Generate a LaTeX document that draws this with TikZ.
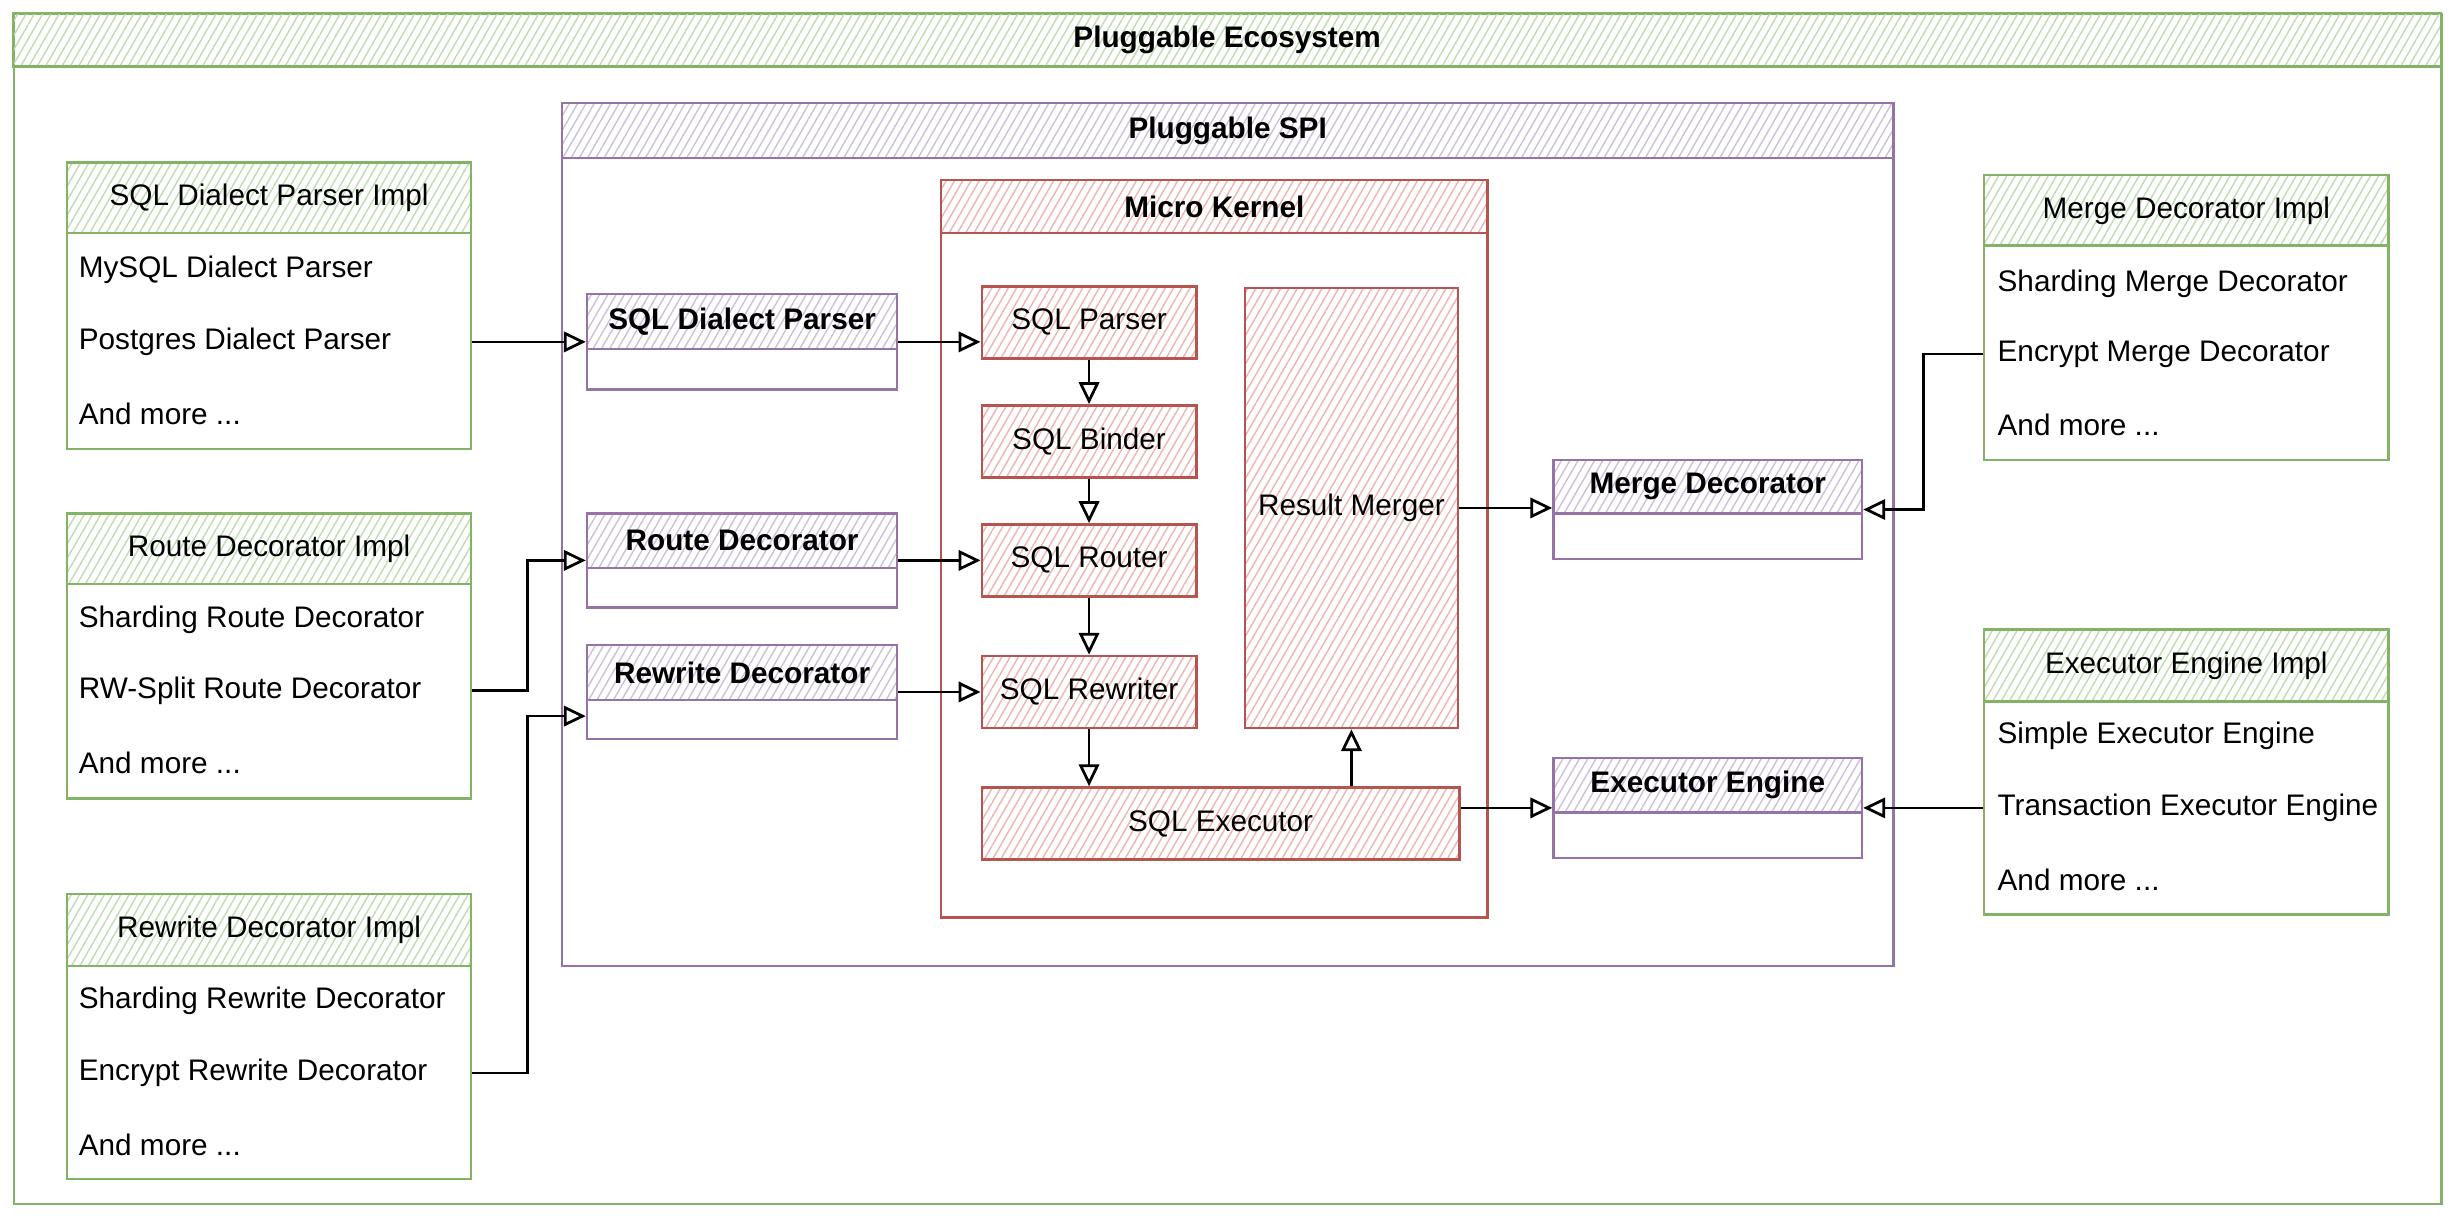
\documentclass[tikz,border=0pt]{standalone}
\usepackage{fontspec}
\setmainfont{Liberation Sans}
\usetikzlibrary{arrows.meta,patterns.meta,calc,positioning}

\definecolor{ecogreen}{HTML}{82B366}
\definecolor{ecohatch}{HTML}{BEDCAD}
\definecolor{spipurple}{HTML}{9673A6}
\definecolor{spihatch}{HTML}{CDBEDD}
\definecolor{kernelred}{HTML}{B85450}
\definecolor{kernelhatch}{HTML}{EEB3AF}

\tikzset{
  lane/.style={draw, fill=white, line width=0.9pt, inner sep=0pt, anchor=north west},
  boxsize/.style 2 args={minimum width=#1*0.2mm, minimum height=#2*0.2mm},
  hatched/.style={pattern={Lines[angle=60,distance=2.6pt,line width=0.5pt]}},
  eco/.style={lane, draw=ecogreen},
  ecohead/.style={draw=ecogreen, line width=0.9pt, inner sep=0pt, anchor=north west, hatched, pattern color=ecohatch},
  spi/.style={lane, draw=spipurple},
  spihead/.style={draw=spipurple, line width=0.9pt, inner sep=0pt, anchor=north west, hatched, pattern color=spihatch},
  kern/.style={lane, draw=kernelred},
  kernhead/.style={draw=kernelred, line width=0.9pt, inner sep=0pt, anchor=north west, hatched, pattern color=kernelhatch},
  item/.style={anchor=west, inner sep=0pt},
  conn/.style={-{Triangle[open,length=2.8mm,width=2.6mm]}, line width=1pt},
}

\begin{document}
\begin{tikzpicture}[x=0.2mm, y=-0.2mm, font=\fontsize{10.8}{13}\selectfont]
  \useasboundingbox[fill=white] (0,0) rectangle (1568,778);

  % ecosystem and SPI frames
  \node[eco, boxsize={1550}{760}] (ecosystem) at (8,8) {};
  \node[ecohead, boxsize={1550}{34}] (ecotitle) at (8,8) {\textbf{Pluggable Ecosystem}};
  \node[spi, boxsize={850}{551}] (spi) at (358,65) {};
  \node[spihead, boxsize={850}{35}] (spititle) at (358,65) {\textbf{Pluggable SPI}};

  % micro kernel
  \node[kern, boxsize={349}{471}] (kernel) at (600,114) {};
  \node[kernhead, boxsize={349}{34}] (kerneltitle) at (600,114) {\textbf{Micro Kernel}};
  \node[kernhead, boxsize={137}{46}] (parser) at (626,182) {SQL Parser};
  \node[kernhead, boxsize={137}{46}] (binder) at (626,258) {SQL Binder};
  \node[kernhead, boxsize={137}{46}] (router) at (626,334) {SQL Router};
  \node[kernhead, boxsize={137}{46}] (rewriter) at (626,418) {SQL Rewriter};
  \node[kernhead, boxsize={136}{281}] (merger) at (794,183) {Result Merger};
  \node[kernhead, boxsize={305}{46}] (executor) at (626,502) {SQL Executor};

  % SPI boxes
  \node[spi, boxsize={198}{61}] (dialect) at (374,187) {};
  \node[spihead, boxsize={198}{35}] (dialecthead) at (374,187) {\textbf{SQL Dialect Parser}};
  \node[spi, boxsize={198}{60}] (route) at (374,327) {};
  \node[spihead, boxsize={198}{35}] (routehead) at (374,327) {\textbf{Route Decorator}};
  \node[spi, boxsize={198}{60}] (rewrite) at (374,411) {};
  \node[spihead, boxsize={198}{35}] (rewritehead) at (374,411) {\textbf{Rewrite Decorator}};
  \node[spi, boxsize={197}{63}] (mergedec) at (991,293) {};
  \node[spihead, boxsize={197}{34}] (mergedechead) at (991,293) {\textbf{Merge Decorator}};
  \node[spi, boxsize={197}{64}] (engine) at (991,483) {};
  \node[spihead, boxsize={197}{35}] (enginehead) at (991,483) {\textbf{Executor Engine}};

  % implementations
  \node[eco, boxsize={258}{183}] (dialectimpl) at (42,103) {};
  \node[ecohead, boxsize={258}{45}] (dialectimplhead) at (42,103) {SQL Dialect Parser Impl};
  \node[item] (dialectimpla) at (50,172) {MySQL Dialect Parser};
  \node[item] (dialectimplb) at (50,218) {Postgres Dialect Parser};
  \node[item] (dialectimplc) at (50,264) {And more ...};

  \node[eco, boxsize={258}{182}] (routeimpl) at (42,327) {};
  \node[ecohead, boxsize={258}{45}] (routeimplhead) at (42,327) {Route Decorator Impl};
  \node[item] (routeimpla) at (50,396) {Sharding Route Decorator};
  \node[item] (routeimplb) at (50,441) {RW-Split Route Decorator};
  \node[item] (routeimplc) at (50,487) {And more ...};

  \node[eco, boxsize={258}{182}] (rewriteimpl) at (42,570) {};
  \node[ecohead, boxsize={258}{46}] (rewriteimplhead) at (42,570) {Rewrite Decorator Impl};
  \node[item] (rewriteimpla) at (50,639) {Sharding Rewrite Decorator};
  \node[item] (rewriteimplb) at (50,685) {Encrypt Rewrite Decorator};
  \node[item] (rewriteimplc) at (50,731) {And more ...};

  \node[eco, boxsize={258}{182}] (mergeimpl) at (1266,111) {};
  \node[ecohead, boxsize={258}{45}] (mergeimplhead) at (1266,111) {Merge Decorator Impl};
  \node[item] (mergeimpla) at (1275,181) {Sharding Merge Decorator};
  \node[item] (mergeimplb) at (1275,226) {Encrypt Merge Decorator};
  \node[item] (mergeimplc) at (1275,271) {And more ...};

  \node[eco, boxsize={258}{182}] (engineimpl) at (1266,401) {};
  \node[ecohead, boxsize={258}{46}] (engineimplhead) at (1266,401) {Executor Engine Impl};
  \node[item] (engineimpla) at (1275,470) {Simple Executor Engine};
  \node[item] (engineimplb) at (1275,516) {Transaction Executor Engine};
  \node[item] (engineimplc) at (1275,562) {And more ...};

  % kernel flow
  \draw[conn] (parser.south) -- (binder.north);
  \draw[conn] (binder.south) -- (router.north);
  \draw[conn] (router.south) -- (rewriter.north);
  \draw[conn] (rewriter.south) -- (rewriter.south |- executor.north);
  \draw[conn] (merger.south |- executor.north) -- (merger.south);

  % SPI to kernel
  \draw[conn] (dialect.east) -- (dialect.east -| parser.west);
  \draw[conn] (route.east) -- (route.east -| router.west);
  \draw[conn] (rewrite.east) -- (rewrite.east -| rewriter.west);
  \draw[conn] (merger.east) -- (merger.east -| mergedec.west);
  \draw[conn] (engine.west -| executor.east) -- (engine.west);

  % impl to SPI
  \coordinate (leftbus) at (337,0);
  \coordinate (rightbus) at (1228,0);
  \draw[conn] (dialect.west -| dialectimpl.east) -- (dialect.west);
  \draw[conn] (routeimplb -| routeimpl.east) -- (routeimplb -| leftbus) |- (route.west);
  \draw[conn] (rewriteimplb -| rewriteimpl.east) -- (rewriteimplb -| leftbus) |- ($(rewrite.west)!0.5!(rewrite.south west)$);
  \draw[conn] (mergeimplb -| mergeimpl.west) -- (mergeimplb -| rightbus) |- (mergedec.east);
  \draw[conn] (engine.east -| engineimpl.west) -- (engine.east);
\end{tikzpicture}
\end{document}
